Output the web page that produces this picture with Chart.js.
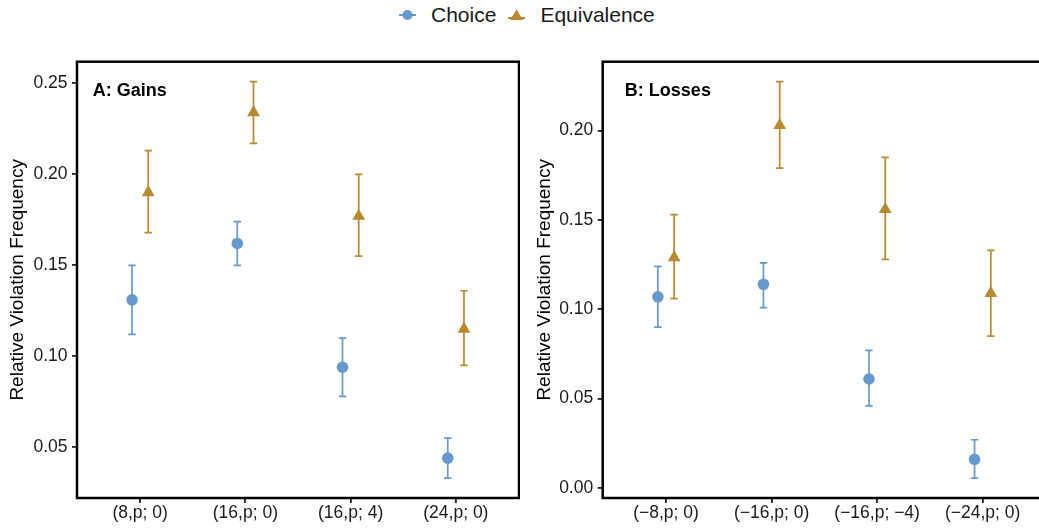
<!DOCTYPE html>
<html>
<head>
<meta charset="utf-8">
<script src="https://cdn.jsdelivr.net/npm/chart.js@4.4.0/dist/chart.umd.min.js"></script>
<style>
  html, body { margin: 0; padding: 0; background: #fff; }
  body { width: 1039px; height: 530px; overflow: hidden; position: relative;
         font-family: 'Liberation Sans', Arial, sans-serif; }
  #legend { position: absolute; left: 399px; top: 0; height: 30px; display: flex;
            align-items: center; font-size: 21px; color: #1a1a1a; white-space: nowrap; }
  #legend svg { display: block; }
  .key { margin-right: 15px; }
  .gap { width: 12px; }
  #panelA { position: absolute; left: 0; top: 40px; }
  #panelB { position: absolute; left: 520px; top: 40px; }
</style>
</head>
<body>
<div id="legend">
  <svg class="key" width="17" height="14"><line x1="0" y1="7" x2="17" y2="7" stroke="#6699CC" stroke-width="2"/><circle cx="8.5" cy="7" r="5" fill="#6699CC"/></svg>
  <span>Choice</span>
  <span class="gap"></span>
  <svg class="key" width="17" height="14"><line x1="0" y1="10" x2="17" y2="10" stroke="#B8892E" stroke-width="2"/><polygon points="8.5,1.5 15,12 2,12" fill="#B8892E"/></svg>
  <span>Equivalence</span>
</div>
<canvas id="panelA" width="520" height="490"></canvas>
<canvas id="panelB" width="527" height="490"></canvas>
<script>
// categories
const gainCategories = ['(8,p; 0)', '(16,p; 0)', '(16,p; 4)', '(24,p; 0)'];
const lossCategories = ['(\u22128,p; 0)', '(\u221216,p; 0)', '(\u221216,p; \u22124)', '(\u221224,p; 0)'];

// A: Gains
const gainsChoice      = [0.131, 0.162, 0.094, 0.044];
const gainsChoiceLow   = [0.112, 0.150, 0.078, 0.033];
const gainsChoiceHigh  = [0.150, 0.174, 0.110, 0.055];
const gainsEquiv       = [0.190, 0.234, 0.177, 0.115];
const gainsEquivLow    = [0.168, 0.217, 0.155, 0.095];
const gainsEquivHigh   = [0.213, 0.251, 0.200, 0.136];

// B: Losses
const lossesChoice     = [0.107, 0.114, 0.061, 0.016];
const lossesChoiceLow  = [0.090, 0.101, 0.046, 0.0055];
const lossesChoiceHigh = [0.124, 0.126, 0.077, 0.027];
const lossesEquiv      = [0.129, 0.203, 0.156, 0.109];
const lossesEquivLow   = [0.106, 0.179, 0.128, 0.085];
const lossesEquivHigh  = [0.153, 0.2275, 0.185, 0.133];

// tick labels
const gainsYTicks  = [0.05, 0.10, 0.15, 0.20, 0.25];
const lossesYTicks = [0.00, 0.05, 0.10, 0.15, 0.20];

const blue = '#6699CC';
const gold = '#B8892E';
const textColor = '#1a1a1a';
const font = "'Liberation Sans', Arial, sans-serif";
const dodge = 0.077;

// vertical error bars drawn under the points
const errorBars = {
  id: 'errorBars',
  beforeDatasetsDraw(chart) {
    const ctx = chart.ctx;
    const y = chart.scales.y;
    chart.data.datasets.forEach((ds, di) => {
      const meta = chart.getDatasetMeta(di);
      meta.data.forEach((pt, i) => {
        const top = y.getPixelForValue(ds.errHigh[i]);
        const bot = y.getPixelForValue(ds.errLow[i]);
        ctx.save();
        ctx.strokeStyle = ds.backgroundColor;
        ctx.lineWidth = 1.7;
        ctx.beginPath();
        ctx.moveTo(pt.x, top); ctx.lineTo(pt.x, bot);
        ctx.moveTo(pt.x - 3.7, top); ctx.lineTo(pt.x + 3.7, top);
        ctx.moveTo(pt.x - 3.7, bot); ctx.lineTo(pt.x + 3.7, bot);
        ctx.stroke();
        ctx.restore();
      });
    });
  }
};

// panel border + panel tag
const panelFrame = {
  id: 'panelFrame',
  afterDraw(chart, args, opts) {
    const ctx = chart.ctx;
    const a = chart.chartArea;
    ctx.save();
    ctx.strokeStyle = '#000';
    ctx.lineWidth = 2.5;
    ctx.strokeRect(a.left, a.top, a.right - a.left, a.bottom - a.top);
    ctx.fillStyle = '#000';
    ctx.font = 'bold 18px ' + font;
    ctx.textAlign = 'left';
    ctx.textBaseline = 'middle';
    ctx.fillText(opts.text, chart.scales.x.getPixelForValue(opts.x), a.top + 29.5);
    ctx.restore();
  }
};

function expandRange(lows, highs) {
  const lo = Math.min(...lows.flat());
  const hi = Math.max(...highs.flat());
  const pad = (hi - lo) * 0.05;
  return [lo - pad, hi + pad];
}

function makePanel(id, cats, choice, choiceLow, choiceHigh, equiv, equivLow, equivHigh, yTicks, tag, tagX, yWidth, titlePad) {
  const [yMin, yMax] = expandRange([choiceLow, equivLow], [choiceHigh, equivHigh]);
  return new Chart(document.getElementById(id), {
    type: 'scatter',
    data: {
      datasets: [{
        label: 'Choice',
        data: choice.map((v, i) => ({ x: i + 1 - dodge, y: v })),
        errLow: choiceLow,
        errHigh: choiceHigh,
        backgroundColor: blue,
        borderWidth: 0,
        pointStyle: 'circle',
        pointRadius: 5.8
      }, {
        label: 'Equivalence',
        data: equiv.map((v, i) => ({ x: i + 1 + dodge, y: v })),
        errLow: equivLow,
        errHigh: equivHigh,
        backgroundColor: gold,
        borderWidth: 0,
        pointStyle: 'triangle',
        pointRadius: 7.4
      }]
    },
    options: {
      responsive: false,
      animation: false,
      events: [],
      layout: { autoPadding: false, padding: { top: 21.7, right: 1, left: 0, bottom: 0 } },
      plugins: {
        legend: { display: false },
        tooltip: { enabled: false },
        panelFrame: { text: tag, x: tagX }
      },
      scales: {
        x: {
          type: 'linear',
          min: 0.4,
          max: 4.6,
          afterBuildTicks: s => { s.ticks = cats.map((c, i) => ({ value: i + 1 })); },
          afterFit: s => { s.height = 32; },
          ticks: {
            autoSkip: false,
            maxRotation: 0,
            padding: 0,
            color: textColor,
            font: { family: font, size: 17.5 },
            callback: v => cats[v - 1]
          },
          grid: { drawOnChartArea: false, drawTicks: true, tickLength: 5, color: '#222', lineWidth: 1.8 },
          border: { display: false }
        },
        y: {
          min: yMin,
          max: yMax,
          afterBuildTicks: s => { s.ticks = yTicks.map(v => ({ value: v })); },
          afterFit: s => { s.width = yWidth; },
          ticks: {
            padding: 4.5,
            color: textColor,
            font: { family: font, size: 17.5 },
            callback: v => v.toFixed(2)
          },
          grid: { drawOnChartArea: false, drawTicks: true, tickLength: 5, color: '#222', lineWidth: 1.8 },
          border: { display: false },
          title: {
            display: true,
            text: 'Relative Violation Frequency',
            color: '#000',
            font: { family: font, size: 19 },
            padding: { top: titlePad, bottom: 0 }
          }
        }
      }
    },
    plugins: [errorBars, panelFrame]
  });
}

makePanel('panelA', gainCategories, gainsChoice, gainsChoiceLow, gainsChoiceHigh,
          gainsEquiv, gainsEquivLow, gainsEquivHigh, gainsYTicks, 'A: Gains', 0.55, 77, 6);
makePanel('panelB', lossCategories, lossesChoice, lossesChoiceLow, lossesChoiceHigh,
          lossesEquiv, lossesEquivLow, lossesEquivHigh, lossesYTicks, 'B: Losses', 0.61, 82.7, 13.3);
</script>
</body>
</html>
